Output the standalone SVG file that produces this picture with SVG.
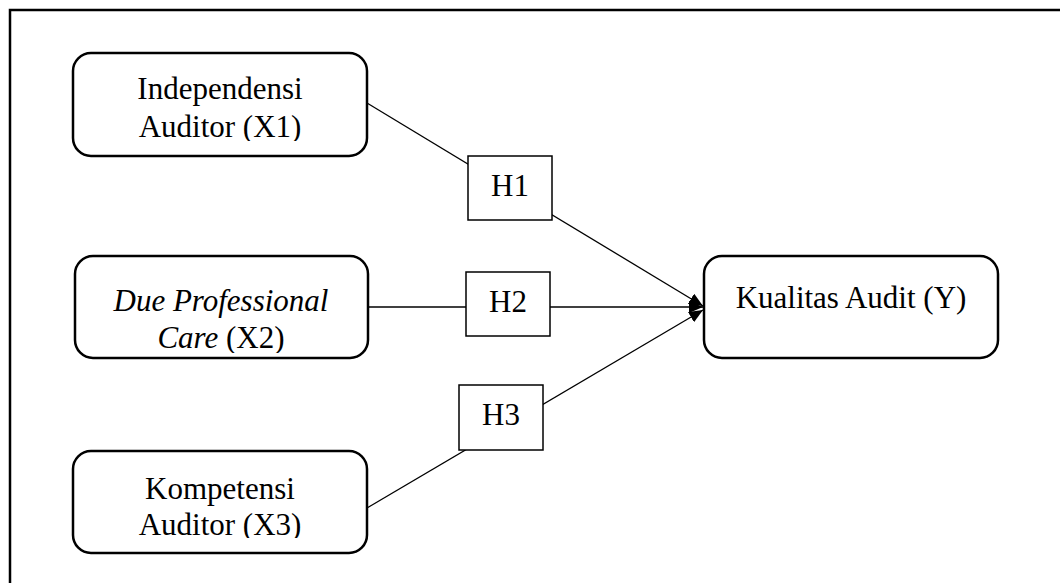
<svg xmlns="http://www.w3.org/2000/svg" width="1060" height="583" viewBox="0 0 1060 583">
  <style>
    .frame { fill: none; stroke: #000; stroke-width: 2.5; }
    .node { fill: #fff; stroke: #000; stroke-width: 2.5; }
    .hyp { fill: #fff; stroke: #000; stroke-width: 1.5; }
    .edge { fill: none; stroke: #000; stroke-width: 1.3; }
    text { font-family: "Liberation Serif", "Times New Roman", serif; font-size: 31px; fill: #000; text-anchor: middle; }
    .it { font-style: italic; }
  </style>
  <defs>
    <marker id="arrow" markerUnits="userSpaceOnUse" markerWidth="14" markerHeight="12" refX="14" refY="6" orient="auto">
      <path d="M0,0 L14,6 L0,12 Z" fill="#000"/>
    </marker>
    <clipPath id="c1"><rect x="73" y="53" width="294" height="88"/></clipPath>
    <clipPath id="c2"><rect x="75" y="256" width="293" height="97"/></clipPath>
    <clipPath id="c3"><rect x="73" y="451" width="294" height="87"/></clipPath>
  </defs>

  <rect class="frame" x="10" y="10" width="1070" height="600"/>

  <g id="connectors">
    <line class="edge" x1="367" y1="103" x2="703" y2="306" marker-end="url(#arrow)"/>
    <line class="edge" x1="368" y1="307" x2="703" y2="307" marker-end="url(#arrow)"/>
    <line class="edge" x1="367" y1="508" x2="703" y2="310" marker-end="url(#arrow)"/>
  </g>

  <g id="node-x1">
    <rect class="node" x="73" y="53" width="294" height="103" rx="18"/>
    <g clip-path="url(#c1)">
      <text x="220" y="99">Independensi</text>
      <text x="220" y="137">Auditor (X1)</text>
    </g>
  </g>

  <g id="node-x2">
    <rect class="node" x="75" y="256" width="293" height="102" rx="18"/>
    <g clip-path="url(#c2)">
      <text x="221" y="311" class="it">Due Professional</text>
      <text x="221" y="348"><tspan class="it">Care</tspan> (X2)</text>
    </g>
  </g>

  <g id="node-x3">
    <rect class="node" x="73" y="451" width="294" height="102" rx="18"/>
    <g clip-path="url(#c3)">
      <text x="220" y="499">Kompetensi</text>
      <text x="220" y="535">Auditor (X3)</text>
    </g>
  </g>

  <g id="node-y">
    <rect class="node" x="704" y="256" width="294" height="102" rx="18"/>
    <text x="851" y="308">Kualitas Audit (Y)</text>
  </g>

  <g id="h1">
    <rect class="hyp" x="468" y="156" width="84" height="64"/>
    <text x="510" y="196">H1</text>
  </g>
  <g id="h2">
    <rect class="hyp" x="466" y="272" width="84" height="64"/>
    <text x="508" y="312">H2</text>
  </g>
  <g id="h3">
    <rect class="hyp" x="459" y="385" width="84" height="65"/>
    <text x="501" y="425">H3</text>
  </g>
</svg>
